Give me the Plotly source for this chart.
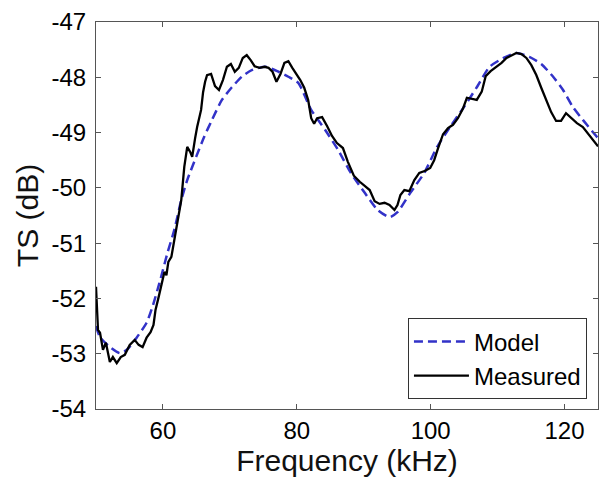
import plotly.graph_objects as go

# Measured TS curve (frequency kHz, TS dB)
meas_freq = [50.0, 50.15, 50.3, 50.6, 51.04, 51.48, 52.07, 52.52, 53.1, 53.7, 54.3, 55.04, 55.78,
             56.37, 56.96, 57.56, 58.15, 58.59, 58.89, 59.33, 59.78, 60.22, 60.52, 60.81, 61.26,
             62.0, 62.74, 63.19, 63.63, 64.07, 64.37, 64.81, 65.11, 65.7, 66.0, 66.3, 66.59,
             67.19, 67.78, 68.37, 68.96, 69.56, 70.15, 70.74, 71.33, 71.93, 72.52, 73.11, 73.7,
             74.44, 75.19, 75.78, 76.37, 76.96, 77.56, 78.15, 78.74, 79.33, 79.93, 80.52, 81.11,
             81.7, 82.15, 82.59, 83.04, 83.78, 84.52, 85.26, 86.0, 86.89, 87.63, 88.52, 89.41,
             90.15, 90.89, 91.63, 92.37, 93.11, 93.85, 94.59, 95.04, 95.48, 96.07, 96.81, 97.56,
             98.3, 99.19, 99.93, 100.52, 101.11, 101.85, 102.59, 103.33, 104.07, 104.81, 105.41,
             106.15, 106.89, 107.63, 108.22, 108.96, 109.85, 110.59, 111.33, 112.07, 112.81,
             113.56, 114.3, 115.04, 115.78, 116.52, 117.26, 118.0, 118.74, 119.48, 120.22,
             120.96, 121.85, 122.74, 123.63, 124.52, 125.0]
meas_ts = [-51.79, -52.21, -52.57, -52.62, -52.93, -52.80, -53.15, -53.06, -53.17, -53.06, -53.02,
           -52.84, -52.75, -52.84, -52.88, -52.71, -52.61, -52.48, -52.21, -51.99, -51.76, -51.52,
           -51.58, -51.34, -51.25, -50.71, -50.22, -49.62, -49.26, -49.35, -49.44, -49.10, -48.90,
           -48.59, -48.27, -48.08, -47.96, -47.94, -48.16, -48.23, -48.05, -47.81, -47.76, -47.90,
           -47.83, -47.65, -47.60, -47.69, -47.80, -47.83, -47.81, -47.83, -47.90, -48.08, -47.94,
           -47.74, -47.71, -47.83, -47.94, -48.05, -48.19, -48.41, -48.74, -48.84, -48.74, -48.72,
           -48.88, -49.06, -49.19, -49.28, -49.53, -49.78, -49.89, -49.97, -50.04, -50.24, -50.29,
           -50.27, -50.31, -50.40, -50.31, -50.13, -50.04, -50.06, -49.86, -49.73, -49.69, -49.64,
           -49.50, -49.28, -49.03, -48.92, -48.86, -48.74, -48.57, -48.37, -48.39, -48.41, -48.26,
           -47.98, -47.89, -47.81, -47.74, -47.65, -47.60, -47.56, -47.58, -47.65, -47.78, -47.96,
           -48.19, -48.41, -48.63, -48.79, -48.79, -48.65, -48.74, -48.83, -48.90, -49.03, -49.17,
           -49.25]

# Model TS curve
model_freq = [50.0, 50.6, 52.07, 53.56, 54.6, 56.07, 57.56, 58.44, 59.48, 60.67, 61.7, 62.74,
              63.63, 64.96, 66.15, 67.33, 68.81, 70.3, 71.78, 73.26, 75.33, 77.26, 78.74, 80.22,
              82.15, 84.22, 86.15, 88.07, 90.15, 92.07, 93.85, 95.04, 96.96, 99.04, 100.96,
              102.89, 104.96, 106.89, 108.81, 110.89, 112.81, 114.74, 116.52, 118.3, 119.78,
              121.26, 122.74, 124.22, 125.0]
model_ts = [-52.50, -52.70, -52.88, -52.99, -52.93, -52.71, -52.44, -52.15, -51.72, -51.18,
            -50.76, -50.22, -49.86, -49.44, -49.08, -48.77, -48.41, -48.18, -47.99, -47.87,
            -47.81, -47.90, -47.99, -48.10, -48.59, -48.95, -49.31, -49.73, -50.09, -50.40,
            -50.53, -50.44, -50.09, -49.73, -49.26, -48.90, -48.54, -48.18, -47.81, -47.65,
            -47.56, -47.63, -47.76, -47.99, -48.23, -48.54, -48.77, -48.99, -49.10]

# Tick labels
x_tickvals = [60, 80, 100, 120]
x_ticktext = ["60", "80", "100", "120"]
y_tickvals = [-54, -53, -52, -51, -50, -49, -48, -47]
y_ticktext = ["-54", "-53", "-52", "-51", "-50", "-49", "-48", "-47"]

FONT = "Liberation Sans, Arial, sans-serif"

fig = go.Figure()
fig.add_trace(go.Scatter(x=model_freq, y=model_ts, mode="lines", name="Model",
                         line=dict(color="#3232c8", width=2.5, dash="9px,5px", shape="spline",
                                   smoothing=0.6)))
fig.add_trace(go.Scatter(x=meas_freq, y=meas_ts, mode="lines", name="Measured",
                         line=dict(color="black", width=2.3)))

axis_common = dict(showline=True, linecolor="#555555", linewidth=1, mirror="ticks",
                   ticks="inside", ticklen=5, tickcolor="#555555", showgrid=False,
                   zeroline=False, tickfont=dict(family=FONT, size=24, color="black"))

fig.update_xaxes(range=[50, 125], tickvals=x_tickvals, ticktext=x_ticktext,
                 title=dict(text="Frequency (kHz)", font=dict(family=FONT, size=30, color="#111111"),
                            standoff=4), **axis_common)
fig.update_yaxes(range=[-54, -47], tickvals=y_tickvals, ticktext=y_ticktext,
                 title=dict(text="TS (dB)", font=dict(family=FONT, size=30, color="#111111"),
                            standoff=4), ticklabelstandoff=4, **axis_common)

fig.update_layout(
    width=599, height=480,
    margin=dict(l=96, r=1, t=22, b=71),
    plot_bgcolor="white", paper_bgcolor="white",
    showlegend=True,
    legend=dict(x=0.978, y=0.025, xanchor="right", yanchor="bottom",
                bordercolor="#333333", borderwidth=1, bgcolor="white",
                font=dict(family=FONT, size=24, color="black"),
                tracegroupgap=0, itemwidth=55),
)

fig.write_html("out.html")
